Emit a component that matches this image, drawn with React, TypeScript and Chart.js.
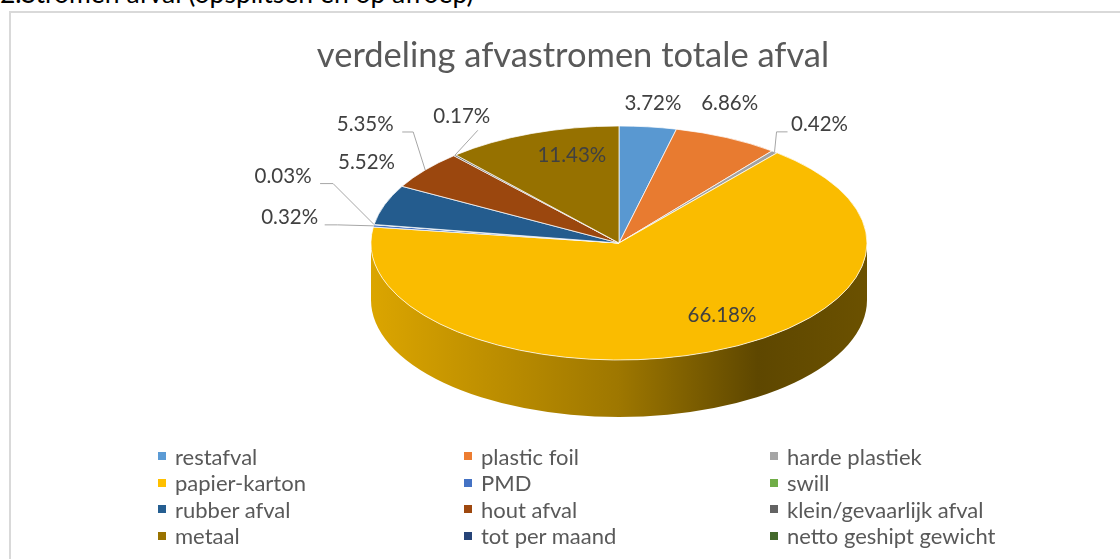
import React, { useEffect, useRef } from 'react';
import { Chart, registerables } from 'chart.js';

Chart.register(...registerables);

// ---------- data ----------
const categories: string[] = [
  'restafval',
  'plastic foil',
  'harde plastiek',
  'papier-karton',
  'PMD',
  'swill',
  'rubber afval',
  'hout afval',
  'klein/gevaarlijk afval',
  'metaal',
  'tot per maand',
  'netto geshipt gewicht',
];
const shares: number[] = [3.72, 6.86, 0.42, 66.18, 0.32, 0.03, 5.52, 5.35, 0.17, 11.43, 0, 0];
const colors: string[] = [
  '#5B9BD5', '#ED7D31', '#A5A5A5', '#FFC000', '#4472C4', '#70AD47',
  '#255E91', '#9E480E', '#636363', '#997300', '#264478', '#43682B',
];
const chartTitle = 'verdeling afvastromen totale afval';
const pageHeading = '2.Stromen afval (opsplitsen en op afroep)';

// label placement relative to each slice's outer-edge midpoint: [dx, dy], optional leader [elbow, end] relative to label centre
type LabelPos = { dx: number; dy: number; leader?: [number, number][] };
const labelLayout: LabelPos[] = [
  { dx: 5, dy: -23 },
  { dx: 3, dy: -34 },
  { dx: 45, dy: -27, leader: [[-43, 7], [-32, 7]] },
  { dx: 13, dy: -37 },
  { dx: -84, dy: -8, leader: [[48, 7], [35, 7]] },
  { dx: -91, dy: -48, leader: [[50, 7], [37, 7]] },
  { dx: -18, dy: -42 },
  { dx: -60, dy: -46, leader: [[48, 8], [37, 8]] },
  { dx: 7, dy: -39, leader: [[16, 14], [16, 14]] },
  { dx: 40, dy: 22 },
  { dx: 0, dy: 0 },
  { dx: 0, dy: 0 },
];

const TILT = 117 / 248;
const DEPTH = 57;

function shade(hex: string, f: number): string {
  const n = parseInt(hex.slice(1), 16);
  const r = Math.round(((n >> 16) & 255) * f);
  const g = Math.round(((n >> 8) & 255) * f);
  const b = Math.round((n & 255) * f);
  return `rgb(${r},${g},${b})`;
}

const pie3d = {
  id: 'pie3d',
  beforeDatasetsDraw(chart: any) {
    const ctx: CanvasRenderingContext2D = chart.ctx;
    const arcs = chart.getDatasetMeta(0).data as any[];
    const { x, y, outerRadius: r } = arcs[0];
    const ry = r * TILT;
    arcs.forEach((arc, i) => {
      const s = Math.max(arc.startAngle, 0);
      const e = Math.min(arc.endAngle, Math.PI);
      if (e <= s) return;
      const c = colors[i];
      const g = ctx.createLinearGradient(x - r, 0, x + r, 0);
      g.addColorStop(0, shade(c, 0.86));
      g.addColorStop(0.5, shade(c, 0.62));
      g.addColorStop(0.78, shade(c, 0.37));
      g.addColorStop(1, shade(c, 0.42));
      ctx.beginPath();
      ctx.ellipse(x, y, r, ry, 0, s, e);
      ctx.ellipse(x, y + DEPTH, r, ry, 0, e, s, true);
      ctx.closePath();
      ctx.fillStyle = g;
      ctx.fill();
    });
    ctx.save();
    ctx.translate(x, y);
    ctx.scale(1, TILT);
    ctx.translate(-x, -y);
  },
  afterDatasetsDraw(chart: any) {
    const ctx: CanvasRenderingContext2D = chart.ctx;
    ctx.restore();
    const arcs = chart.getDatasetMeta(0).data as any[];
    const { x, y, outerRadius: r } = arcs[0];
    const ry = r * TILT;
    ctx.save();
    ctx.font = '20.5px Lato';
    ctx.textAlign = 'center';
    ctx.textBaseline = 'middle';
    arcs.forEach((arc, i) => {
      const v = shares[i];
      if (!v) return;
      const mid = (arc.startAngle + arc.endAngle) / 2;
      const ax = x + r * Math.cos(mid);
      const ay = y + ry * Math.sin(mid);
      const lp = labelLayout[i];
      const lx = ax + lp.dx;
      const ly = ay + lp.dy;
      if (lp.leader) {
        ctx.beginPath();
        ctx.moveTo(ax, ay);
        lp.leader.forEach(([ex, ey]) => ctx.lineTo(lx + ex, ly + ey));
        ctx.strokeStyle = '#A6A6A6';
        ctx.lineWidth = 1;
        ctx.stroke();
      }
      ctx.fillStyle = '#404040';
      ctx.fillText(v.toFixed(2) + '%', lx, ly);
    });
    ctx.restore();
  },
};

export default function App() {
  const canvasRef = useRef<HTMLCanvasElement | null>(null);

  useEffect(() => {
    if (!canvasRef.current) return;
    const chart = new Chart(canvasRef.current, {
      type: 'pie',
      data: {
        labels: categories,
        datasets: [
          {
            data: shares,
            backgroundColor: colors.map((c) => shade(c, 0.98)),
            borderColor: '#FFFFFF',
            borderWidth: 1,
            radius: 248,
            clip: false as any,
          },
        ],
      },
      options: {
        responsive: false,
        animation: false,
        devicePixelRatio: 1,
        layout: { padding: { left: 311, right: 200, top: 80, bottom: 166 } },
        plugins: {
          legend: { display: false },
          title: { display: false },
          tooltip: { enabled: false },
        },
      },
      plugins: [pie3d],
    });
    return () => chart.destroy();
  }, []);

  return (
    <div style={{ position: 'fixed', left: 0, top: 0, width: 1120, height: 559, overflow: 'hidden', background: '#fff' }}>
      <div
        style={{
          position: 'absolute', left: 0, top: -20, font: '26.5px Lato', lineHeight: '26.5px',
          color: '#000', whiteSpace: 'nowrap',
        }}
      >
        {pageHeading}
      </div>
      <div
        style={{
          position: 'absolute', left: 9, top: 11, width: 1200, height: 600,
          border: '2px solid #D9D9D9', background: '#fff', boxSizing: 'border-box',
        }}
      />
      <canvas
        ref={canvasRef}
        width={1105}
        height={546}
        style={{ position: 'absolute', left: 11, top: 13, width: 1105, height: 546 }}
      />
      <div
        style={{
          position: 'absolute', left: 0, top: 36.5, width: 1146, textAlign: 'center',
          font: '34.5px Lato', lineHeight: '34.5px', color: '#595959', whiteSpace: 'nowrap',
        }}
      >
        {chartTitle}
      </div>
      <div
        style={{
          position: 'absolute', left: 158, top: 442.75, display: 'grid',
          gridTemplateColumns: '306px 306px 306px', gridAutoRows: '26.5px',
        }}
      >
        {categories.map((c, i) => (
          <div key={c} style={{ display: 'flex', alignItems: 'center', height: 26.5 }}>
            <span style={{ display: 'inline-block', width: 8, height: 8, background: colors[i], marginRight: 9, flex: 'none' }} />
            <span style={{ font: '22px Lato', color: '#595959', whiteSpace: 'nowrap' }}>{c}</span>
          </div>
        ))}
      </div>
    </div>
  );
}
